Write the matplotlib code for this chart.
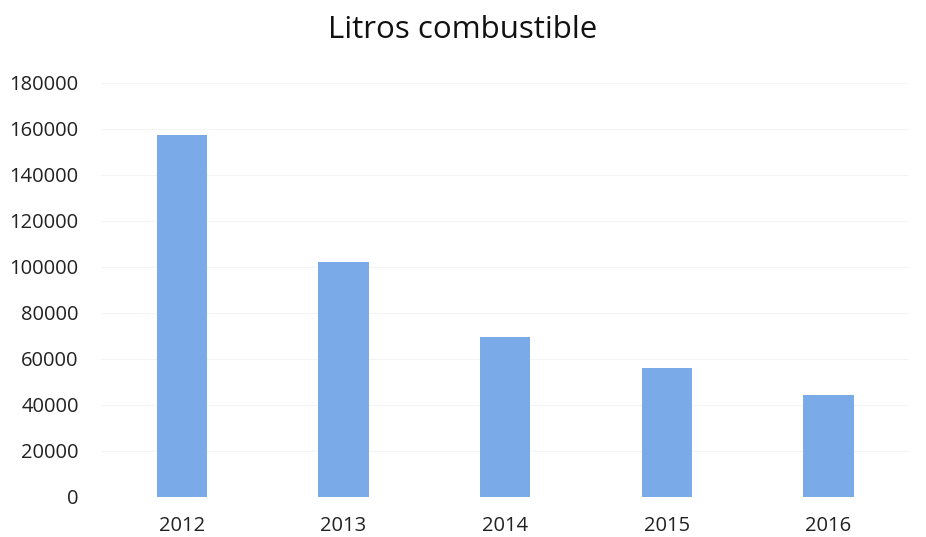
import matplotlib
matplotlib.use("Agg")
import matplotlib.pyplot as plt

years = ["2012", "2013", "2014", "2015", "2016"]
litros = [157500, 102200, 69600, 56100, 44300]
yticks = [0, 20000, 40000, 60000, 80000, 100000, 120000, 140000, 160000, 180000]

plt.rcParams['font.family'] = ['Open Sans', 'DejaVu Sans']
fig = plt.figure(figsize=(9.26, 5.37), dpi=100)
ax = fig.add_axes([0.109, 0.0745, 0.873, 0.771])
x = range(len(years))
ax.bar(x, litros, width=0.31, color='#7BAAE8')
ax.set_xlim(-0.5, len(years) - 0.5)
ax.set_ylim(0, 180000)
ax.set_yticks(yticks)
ax.set_yticklabels([str(v) for v in yticks], fontsize=14.5, color='#222222')
ax.set_xticks(list(x))
ax.set_xticklabels(years, fontsize=14.5, color='#222222')
ax.tick_params(axis='y', length=0, pad=16)
ax.tick_params(axis='x', length=0, pad=14)
ax.yaxis.grid(True, color='#f4f4f4', linewidth=0.8)
ax.set_axisbelow(True)
for s in ax.spines.values():
    s.set_visible(False)
fig.text(0.5, 0.945, "Litros combustible", ha='center', va='center', fontsize=22.5, color='#111111')
fig.savefig("out.png", dpi=100)
